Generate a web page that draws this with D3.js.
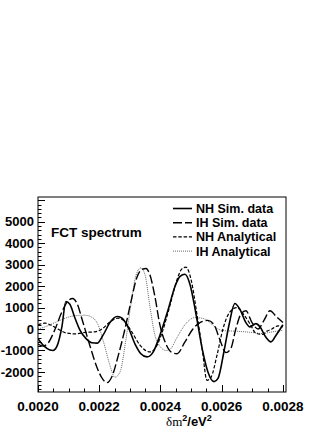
<!DOCTYPE html>
<html><head><meta charset="utf-8">
<script src="https://cdn.jsdelivr.net/npm/d3@7"></script>
<style>body{margin:0;background:#fff}</style>
</head><body><svg id="c" width="332" height="430"></svg>
<script>
// ---- data ----
const xTicks = [0.0020, 0.0022, 0.0024, 0.0026, 0.0028];
const xTickLabels = ["0.0020", "0.0022", "0.0024", "0.0026", "0.0028"];
const yTicks = [-2000, -1000, 0, 1000, 2000, 3000, 4000, 5000];
const yTickLabels = ["-2000", "-1000", "0", "1000", "2000", "3000", "4000", "5000"];
const seriesNames = ["NH Sim. data", "IH Sim. data", "NH Analytical", "IH Analytical"];

const nhSimX = [0.002000,0.002020,0.002039,0.002049,0.002062,0.002078,0.002091,0.002104,0.002121,0.002137,0.002157,0.002176,0.002193,0.002212,0.002235,0.002258,0.002271,0.002294,0.002317,0.002336,0.002356,0.002375,0.002398,0.002425,0.002448,0.002464,0.002480,0.002496,0.002516,0.002536,0.002555,0.002575,0.002588,0.002608,0.002624,0.002643,0.002660,0.002679,0.002692,0.002712,0.002725,0.002745,0.002761,0.002777,0.002800];
const nhSimY = [-450,-800,-980,-1000,-800,100,1280,1150,500,-50,-450,-640,-660,-300,300,580,540,100,-700,-1150,-1300,-1100,-300,900,2000,2450,2550,2100,700,-900,-2000,-2450,-2300,-1000,200,1190,900,300,100,250,100,-400,-600,-300,200];

const ihSimX = [0.002000,0.002016,0.002033,0.002056,0.002078,0.002098,0.002113,0.002127,0.002147,0.002170,0.002193,0.002212,0.002225,0.002242,0.002261,0.002284,0.002304,0.002323,0.002340,0.002353,0.002366,0.002382,0.002398,0.002418,0.002438,0.002454,0.002480,0.002506,0.002529,0.002555,0.002575,0.002594,0.002614,0.002630,0.002646,0.002663,0.002679,0.002699,0.002719,0.002738,0.002758,0.002777,0.002800];
const ihSimY = [-700,-800,-650,0,800,1300,1420,1200,300,-800,-1800,-2350,-2500,-2200,-1300,0,1300,2400,2780,2820,2500,1500,200,-700,-1100,-1150,-600,0,300,400,200,-500,-1100,-900,0,700,850,300,0,400,850,600,300];

const nhAnaX = [0.002000,0.002023,0.002046,0.002065,0.002091,0.002121,0.002154,0.002186,0.002209,0.002235,0.002261,0.002281,0.002307,0.002333,0.002366,0.002389,0.002408,0.002431,0.002454,0.002470,0.002483,0.002500,0.002519,0.002536,0.002552,0.002565,0.002585,0.002604,0.002627,0.002650,0.002673,0.002692,0.002712,0.002732,0.002748,0.002764,0.002784,0.002800];
const nhAnaY = [200,270,150,0,-180,-230,-160,-130,0,330,500,380,-150,-750,-1070,-750,-50,1100,2300,2800,2880,2300,700,-900,-2390,-2250,-1200,0,800,1000,650,250,-200,-250,-100,0,150,100];

const ihAnaX = [0.002000,0.002023,0.002056,0.002088,0.002121,0.002154,0.002176,0.002196,0.002216,0.002235,0.002251,0.002268,0.002287,0.002304,0.002320,0.002336,0.002350,0.002366,0.002382,0.002398,0.002418,0.002431,0.002454,0.002480,0.002513,0.002542,0.002565,0.002588,0.002610,0.002643,0.002692,0.002732,0.002758,0.002800];
const ihAnaY = [0,100,300,500,620,640,550,200,-700,-1700,-2250,-2000,-500,1200,2500,2850,2500,1000,-300,-800,-1000,-950,-400,200,530,480,250,0,-80,-100,-150,-210,-150,-60];

// ---- layout ----
const L = 38, R = 286, T = 197, B = 392;
const svg = d3.select("#c");
const x = d3.scaleLinear().domain([0.002, 0.00281]).range([L, R]);
const y = d3.scaleLinear().domain([-2935, 6150]).range([B, T]);
const font = "'Liberation Sans', Arial, Helvetica, sans-serif";

// series
const series = [
  {name: seriesNames[0], xs: nhSimX, ys: nhSimY, dash: null, w: 1.6, col: "#000"},
  {name: seriesNames[1], xs: ihSimX, ys: ihSimY, dash: "9,3", w: 1.4, col: "#000"},
  {name: seriesNames[2], xs: nhAnaX, ys: nhAnaY, dash: "3.5,1.8", w: 1.2, col: "#000"},
  {name: seriesNames[3], xs: ihAnaX, ys: ihAnaY, dash: "1,1", w: 1, col: "#666"}
];

svg.append("clipPath").attr("id", "clip").append("rect")
  .attr("x", L).attr("y", T).attr("width", R - L).attr("height", B - T);

const line = d3.line().x(d => x(d[0])).y(d => y(d[1])).curve(d3.curveMonotoneX);
const g = svg.append("g").attr("clip-path", "url(#clip)");
series.slice().reverse().forEach(s => {
  const pts = s.xs.map((v, i) => [v, s.ys[i]]);
  g.append("path").datum(pts).attr("d", line)
    .attr("fill", "none").attr("stroke", s.col).attr("stroke-width", s.w)
    .attr("stroke-dasharray", s.dash);
});

// frame
svg.append("rect").attr("x", L).attr("y", T).attr("width", R - L).attr("height", B - T)
  .attr("fill", "none").attr("stroke", "#000").attr("stroke-width", 1);

// y axis (ticks inside)
const yAx = svg.append("g").attr("transform", `translate(${L},0)`);
const yMinor = d3.range(-2800, 6150, 200);
yAx.selectAll("line.mn").data(yMinor).join("line")
  .attr("x1", 0).attr("x2", d => d % 1000 === 0 ? 7 : 3.5)
  .attr("y1", d => Math.round(y(d)) + 0.5).attr("y2", d => Math.round(y(d)) + 0.5)
  .attr("stroke", "#000").attr("stroke-width", 1);
yAx.selectAll("text").data(yTicks).join("text")
  .attr("x", -4).attr("y", d => y(d)).attr("dy", "0.36em")
  .attr("text-anchor", "end").attr("font-family", font).attr("font-weight", "bold")
  .attr("font-size", "13px").text((d, i) => yTickLabels[i]);

// x axis (ticks inside)
const xAx = svg.append("g").attr("transform", `translate(0,${B})`);
const xMinor = d3.range(0, 17).map(i => 0.002 + i * 0.00005);
xAx.selectAll("line").data(xMinor).join("line")
  .attr("x1", d => Math.round(x(d)) + 0.5).attr("x2", d => Math.round(x(d)) + 0.5)
  .attr("y1", 0).attr("y2", (d, i) => i % 4 === 0 ? -7 : -3.5)
  .attr("stroke", "#000").attr("stroke-width", 1);
xAx.selectAll("text").data(xTicks).join("text")
  .attr("x", d => x(d)).attr("y", 19)
  .attr("text-anchor", "middle").attr("font-family", font).attr("font-weight", "bold")
  .attr("font-size", "13.5px").text((d, i) => xTickLabels[i]);

// x axis title
const tt = svg.append("text").attr("x", 166).attr("y", 425.5).attr("font-size", "13px");
tt.append("tspan").attr("font-family", "'Liberation Serif', 'DejaVu Serif', serif").text("δm");
tt.append("tspan").attr("font-family", font).attr("font-weight", "bold").attr("font-size", "9px").attr("dy", -4.5).text("2");
tt.append("tspan").attr("font-family", font).attr("font-weight", "bold").attr("dy", 4.5).text("/eV");
tt.append("tspan").attr("font-family", font).attr("font-weight", "bold").attr("font-size", "9px").attr("dy", -4.5).text("2");

// FCT spectrum label
svg.append("text").attr("x", 51).attr("y", 236.5).attr("font-family", font)
  .attr("font-weight", "bold").attr("font-size", "13.5px").text("FCT spectrum");

// legend
const lg = svg.append("g");
series.forEach((s, i) => {
  const yy = 208.5 + i * 14.2;
  lg.append("line").attr("x1", 173).attr("x2", 192).attr("y1", yy).attr("y2", yy)
    .attr("stroke", s.col).attr("stroke-width", s.w).attr("stroke-dasharray", s.dash);
  lg.append("text").attr("x", 196).attr("y", yy + 4.5).attr("font-family", font)
    .attr("font-weight", "bold").attr("font-size", "12.5px").text(s.name);
});
</script></body></html>
